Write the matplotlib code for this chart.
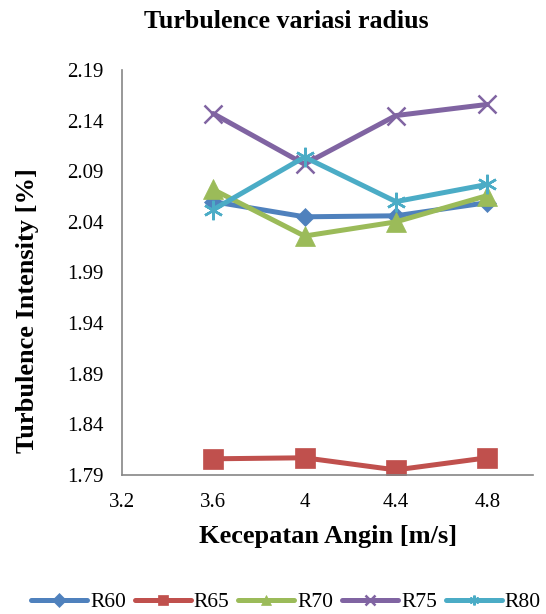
import matplotlib.pyplot as plt

# wind speed (m/s)
kecepatan = [3.6, 4.0, 4.4, 4.8]

# turbulence intensity per radius
r60 = [2.060, 2.045, 2.046, 2.059]
r65 = [1.806, 1.807, 1.795, 1.807]
r70 = [2.072, 2.026, 2.040, 2.066]
r75 = [2.147, 2.097, 2.145, 2.156]
r80 = [2.052, 2.104, 2.060, 2.077]

labels = ['R60', 'R65', 'R70', 'R75', 'R80']
colors = ['#4F81BD', '#C0504D', '#9BBB59', '#8064A2', '#4BACC6']
markers = ['D', 's', '^', 'x', (6, 2, 0)]
msizes = [9.5, 14, 14, 13, 14]

xticks = [3.2, 3.6, 4.0, 4.4, 4.8]
yticks = [1.79, 1.84, 1.89, 1.94, 1.99, 2.04, 2.09, 2.14, 2.19]

plt.rcParams['font.family'] = ['Liberation Serif', 'DejaVu Serif']

fig = plt.figure(figsize=(5.46, 6.14), dpi=100)
ax = fig.add_axes([121.7 / 546, 1 - 475 / 614, (533 - 121.7) / 546, (475 - 70) / 614])

series = [r60, r65, r70, r75, r80]
for vals, lab, c, m, ms in zip(series, labels, colors, markers, msizes):
    thin = m in ('x', (6, 2, 0))
    ax.plot(kecepatan, vals, color=c, linewidth=3.6, marker=m, markersize=ms,
            markeredgewidth=1.8 if thin else 0.5,
            markeredgecolor=c, label=lab, solid_capstyle='round')

ax.set_xlim(3.2, 5.0)
ax.set_ylim(1.79, 2.19)
ax.set_xticks(xticks)
ax.set_xticklabels(['3.2', '3.6', '4', '4.4', '4.8'])
ax.set_yticks(yticks)
ax.set_yticklabels(['%.2f' % v for v in yticks])
ax.tick_params(length=0, labelsize=15)
ax.tick_params(axis='x', pad=13)
ax.tick_params(axis='y', pad=13)

for s in ['top', 'right']:
    ax.spines[s].set_visible(False)
for s in ['left', 'bottom']:
    ax.spines[s].set_color('#868686')
    ax.spines[s].set_linewidth(1.2)

fig.text(286 / 546, 1 - 22 / 614, 'Turbulence variasi radius', ha='center', va='center',
         fontsize=18.6, fontweight='bold')
fig.text(328 / 546, 1 - 536 / 614, 'Kecepatan Angin [m/s]', ha='center', va='center',
         fontsize=19, fontweight='bold')
fig.text(28 / 546, 1 - 311 / 614, 'Turbulence Intensity [%]', ha='center', va='center',
         rotation=90, fontsize=19, fontweight='bold')

leg = fig.legend(loc='center', bbox_to_anchor=(286 / 546, 1 - 602 / 614), ncol=5, frameon=False,
                 fontsize=15.5, handlelength=2.6, handletextpad=0.15, columnspacing=0.4,
                 borderaxespad=0)
for h in leg.legend_handles:
    h.set_markersize(7)

fig.savefig('out.png', dpi=100)
